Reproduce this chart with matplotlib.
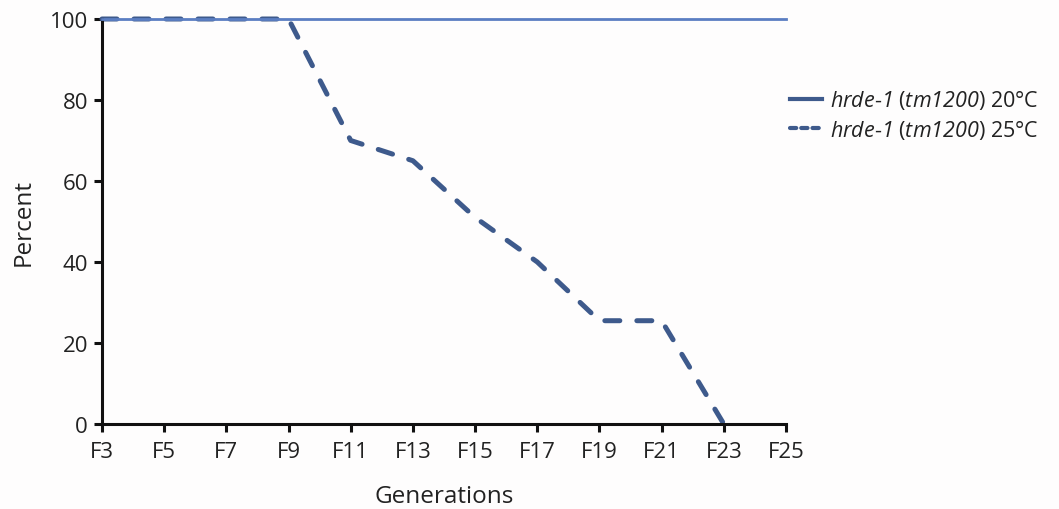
import matplotlib.pyplot as plt

plt.rcParams['font.family'] = ['Open Sans', 'DejaVu Sans']
plt.rcParams['mathtext.fontset'] = 'custom'
# \mathrm is mapped to the italic face so digits in gene names are slanted too
plt.rcParams['mathtext.rm'] = 'Open Sans:italic'
plt.rcParams['mathtext.it'] = 'Open Sans:italic'

# generations scored (odd generations F3..F25)
generations = [3, 5, 7, 9, 11, 13, 15, 17, 19, 21, 23, 25]
tick_labels = ['F3', 'F5', 'F7', 'F9', 'F11', 'F13', 'F15', 'F17', 'F19', 'F21', 'F23', 'F25']

# percent fertile lines
gens_20c = [3, 5, 7, 9, 11, 13, 15, 17, 19, 21, 23, 25]
pct_20c = [100, 100, 100, 100, 100, 100, 100, 100, 100, 100, 100, 100]
gens_25c = [3, 5, 7, 9, 11, 13, 15, 17, 19, 21, 23]
pct_25c = [100, 100, 100, 100, 70, 65, 51, 40, 25.5, 25.5, 0]

label_20c = r'$\mathrm{hrde‐1}$ ($\mathrm{tm1200}$) 20°C'
label_25c = r'$\mathrm{hrde‐1}$ ($\mathrm{tm1200}$) 25°C'

fig = plt.figure(figsize=(10.59, 5.10), dpi=100)
fig.patch.set_facecolor('#fefdfd')
ax = fig.add_axes([0.0963, 0.1667, 0.6459, 0.7941])
ax.set_facecolor('#fefdfd')

ax.plot(gens_25c, pct_25c, color='#3e5a8c', lw=3.6, linestyle=(0, (3, 3.4)),
        dash_capstyle='round', solid_joinstyle='round', label=label_25c,
        clip_on=False, zorder=2)
ax.plot(gens_20c, pct_20c, color='#5b7ec2', lw=2.0, label=label_20c,
        clip_on=False, zorder=3)

ax.set_xlim(3, 25)
ax.set_ylim(0, 100)
ax.set_xticks(generations)
ax.set_xticklabels(tick_labels)
ax.set_yticks([0, 20, 40, 60, 80, 100])

for side in ['top', 'right']:
    ax.spines[side].set_visible(False)
for side in ['left', 'bottom']:
    ax.spines[side].set_linewidth(2.2)
    ax.spines[side].set_color('#111111')
ax.tick_params(axis='both', direction='out', length=6, width=2.2,
               color='#111111', labelsize=16, labelcolor='#222222')
ax.tick_params(axis='x', pad=6)
ax.tick_params(axis='y', pad=4)

ax.set_xlabel('Generations', fontsize=17.5, labelpad=16, color='#222222')
ax.set_ylabel('Percent', fontsize=17.5, labelpad=10, color='#222222')

handles, labels = ax.get_legend_handles_labels()
leg = ax.legend(handles[::-1], labels[::-1], loc='upper left',
                bbox_to_anchor=(0.99, 0.855), frameon=False, fontsize=15.5,
                handlelength=1.5, handletextpad=0.35, labelspacing=0.3,
                borderaxespad=0.3, borderpad=0.2)
leg.get_lines()[0].set_color('#3e5a8c')
leg.get_lines()[0].set_linewidth(3.0)
leg.get_lines()[1].set_linewidth(3.0)
leg.get_lines()[1].set_linestyle((0, (1.5, 1.2)))
for t in leg.get_texts():
    t.set_color('#222222')

fig.savefig('out.png', dpi=100, facecolor=fig.get_facecolor())
